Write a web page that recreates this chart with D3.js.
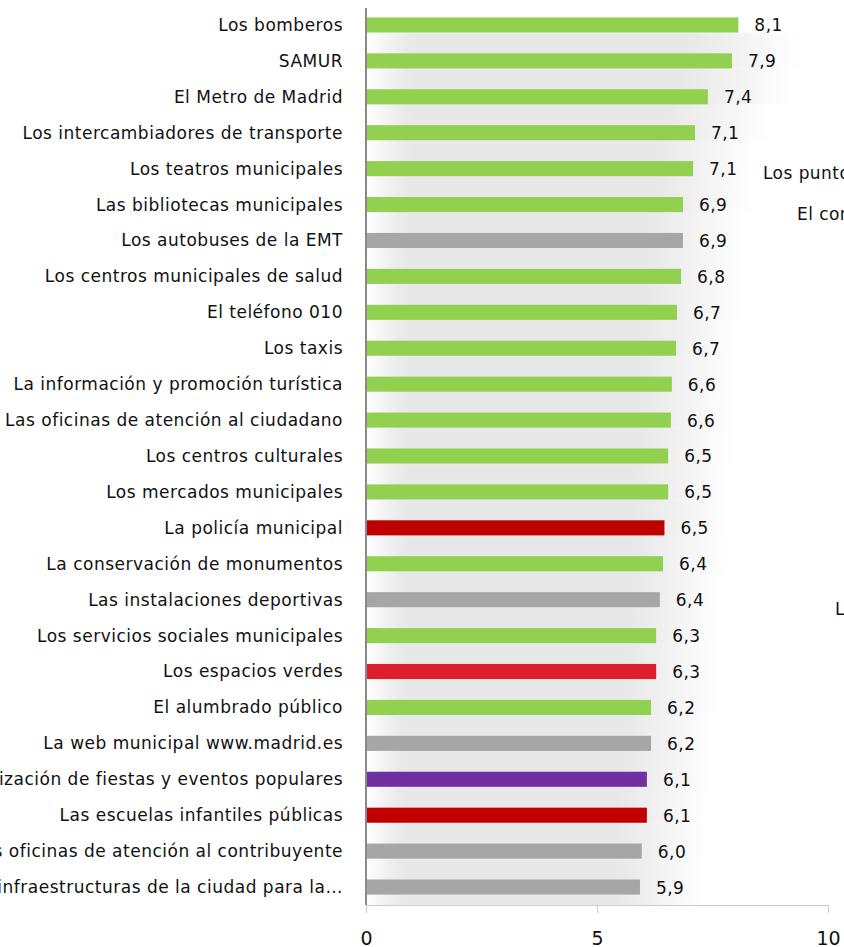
<html lang="es">
  <head>
    <meta charset="UTF-8" />
    <title>Valoración de servicios</title>
    <script src="https://cdn.jsdelivr.net/npm/d3@7"></script>
    <style>
      body { margin: 0; background: #fff; overflow: hidden; }
      text { font-family: "DejaVu Sans", Verdana, sans-serif; fill: #111; }
    </style>
  </head>
  <body>
    <script>
      // datos
      let categories = [
        "Los bomberos", "SAMUR", "El Metro de Madrid", "Los intercambiadores de transporte",
        "Los teatros municipales", "Las bibliotecas municipales", "Los autobuses de la EMT",
        "Los centros municipales de salud", "El teléfono 010", "Los taxis",
        "La información y promoción turística", "Las oficinas de atención al ciudadano",
        "Los centros culturales", "Los mercados municipales", "La policía municipal",
        "La conservación de monumentos", "Las instalaciones deportivas",
        "Los servicios sociales municipales", "Los espacios verdes", "El alumbrado público",
        "La web municipal www.madrid.es", "La organización de fiestas y eventos populares",
        "Las escuelas infantiles públicas", "Las oficinas de atención al contribuyente",
        "Las infraestructuras de la ciudad para la práctica deportiva"
      ];
      let values = [8.06, 7.92, 7.40, 7.12, 7.08, 6.86, 6.86, 6.82, 6.73, 6.71, 6.62, 6.60,
        6.54, 6.54, 6.46, 6.43, 6.36, 6.28, 6.28, 6.17, 6.17, 6.08, 6.08, 5.97, 5.93];
      let groups = ["g", "g", "g", "g", "g", "g", "s", "g", "g", "g", "g", "g", "g", "g", "r",
        "g", "s", "g", "e", "g", "s", "p", "r", "s", "s"];
      let ticks = [0, 5, 10];
      let sideLabels = [
        { text: "Los puntos limpios", row: 4, dx: 397 },
        { text: "El control del ruido", row: 5, dx: 431 },
        { text: "La limpieza", row: 16, dx: 469 }
      ];

      let colors = { g: "#92d050", s: "#a6a6a6", r: "#c00000", e: "#dc1f2a", p: "#7030a0" };

      let width = 844, height = 947;
      let x0 = 366;
      let svg = d3.select("body").append("svg")
        .attr("width", width).attr("height", height);

      let x = d3.scaleLinear().domain([0, 10]).range([x0, 828]);
      let y = d3.scaleBand().domain(categories).range([7, 905]).paddingInner(0.58).paddingOuter(0.29);
      let step = y.step();

      // sombra gris detras de las barras
      let defs = svg.append("defs");
      let grad = defs.append("linearGradient").attr("id", "sh");
      grad.append("stop").attr("offset", 0).attr("stop-color", "#fff");
      grad.append("stop").attr("offset", 0.1).attr("stop-color", "#e8e8e8");
      grad.append("stop").attr("offset", 0.75).attr("stop-color", "#e8e8e8");
      grad.append("stop").attr("offset", 1).attr("stop-color", "#fff");
      defs.append("filter").attr("id", "blur").attr("x", "-10%").attr("width", "120%")
        .append("feGaussianBlur").attr("stdDeviation", "6 1");
      defs.append("clipPath").attr("id", "area")
        .append("rect").attr("x", x0).attr("y", 0).attr("width", 480).attr("height", 905);

      svg.append("g").attr("clip-path", "url(#area)")
        .append("g").attr("filter", "url(#blur)").selectAll("rect")
        .data(categories)
        .join("rect")
        .attr("x", x0)
        .attr("y", d => y(d) + y.bandwidth())
        .attr("width", (d, i) => x(values[i]) - x0 + 62)
        .attr("height", step)
        .attr("fill", "url(#sh)");

      svg.append("g").selectAll("rect")
        .data(categories)
        .join("rect")
        .attr("x", x0)
        .attr("y", d => y(d))
        .attr("width", (d, i) => x(values[i]) - x0)
        .attr("height", y.bandwidth())
        .attr("fill", (d, i) => colors[groups[i]]);

      // etiquetas de categoria
      svg.append("g").selectAll("text")
        .data(categories)
        .join("text")
        .attr("x", x0 - 23)
        .attr("y", d => y(d) + y.bandwidth() / 2)
        .attr("dy", "0.35em")
        .attr("text-anchor", "end")
        .style("font-size", "17px")
        .style("letter-spacing", "0.5px")
        .text((d, i) => i === categories.length - 1 ? "Las infraestructuras de la ciudad para la…" : d);

      // valores
      svg.append("g").selectAll("text")
        .data(categories)
        .join("text")
        .attr("x", (d, i) => x(values[i]) + 16)
        .attr("y", d => y(d) + y.bandwidth() / 2)
        .attr("dy", "0.38em")
        .style("font-size", "17px")
        .style("letter-spacing", "0.45px")
        .text((d, i) => values[i].toFixed(1).replace(".", ","));

      // textos del grafico vecino (cortados en el borde)
      svg.append("g").selectAll("text")
        .data(sideLabels)
        .join("text")
        .attr("x", d => x0 + d.dx)
        .attr("y", d => y(categories[d.row]) + y.bandwidth() / 2 + (d.row === 4 ? 4 : 9))
        .attr("dy", "0.35em")
        .style("font-size", "17px")
        .style("letter-spacing", "0.45px")
        .text(d => d.text);

      // eje x
      let ax = svg.append("g").attr("transform", "translate(0,905)")
        .call(d3.axisBottom(x).tickValues(ticks).tickSize(8).tickFormat(d3.format("d")));
      ax.select(".domain").attr("stroke", "#ccc");
      ax.selectAll(".tick line").attr("stroke", "#ccc");
      ax.selectAll(".tick text").attr("dy", "1.5em").style("font-size", "19px").style("font-family", "DejaVu Sans");

      // eje vertical
      svg.append("line")
        .attr("x1", x0).attr("x2", x0).attr("y1", 8).attr("y2", 905)
        .attr("stroke", "#8a8a8a").attr("stroke-width", 2);
    </script>
  </body>
</html>
